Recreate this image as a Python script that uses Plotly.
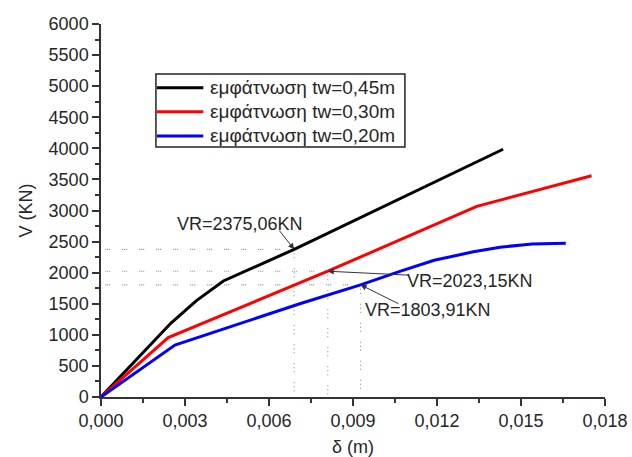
import plotly.graph_objects as go

# Shear force V (KN) against displacement delta (m) for three wall thicknesses
delta_045 = [0.0, 0.00250, 0.00341, 0.00437, 0.0069, 0.01436]
v_045 = [0, 1190, 1550, 1867, 2375.06, 3985]

delta_030 = [0.0, 0.00240, 0.0081, 0.01342, 0.01752]
v_030 = [0, 955, 2023.15, 3066, 3560]

delta_020 = [0.0, 0.00264, 0.0071, 0.00927, 0.0107, 0.0119, 0.0133, 0.01425, 0.0154, 0.0166]
v_020 = [0, 835, 1500, 1803.91, 2025, 2200, 2335, 2410, 2462, 2475]

series_names = ["εμφάτνωση tw=0,45m", "εμφάτνωση tw=0,30m", "εμφάτνωση tw=0,20m"]
series_colors = ["#000000", "#ff0000", "#0000ff"]

# Resistance points marked on the curves
vr_delta = [0.0069, 0.0081, 0.00927]
vr_values = [2375.06, 2023.15, 1803.91]
vr_labels = ["VR=2375,06KN", "VR=2023,15KN", "VR=1803,91KN"]

x_ticks = [0.0, 0.003, 0.006, 0.009, 0.012, 0.015, 0.018]
x_tick_labels = ["0,000", "0,003", "0,006", "0,009", "0,012", "0,015", "0,018"]
y_ticks = list(range(0, 6001, 500))
y_tick_labels = [str(v) for v in y_ticks]

FONT = "Arial, 'Liberation Sans', sans-serif"
TEXT = "#262626"
GUIDE = "#8a8a8a"

fig = go.Figure()

# dotted guides from the axes to each resistance point
for d, v in zip(vr_delta, vr_values):
    fig.add_trace(go.Scatter(
        x=[0.00015, d], y=[v, v], mode="lines", showlegend=False, hoverinfo="skip",
        line=dict(color=GUIDE, width=1.1, dash="1px,1px,1px,1px,1px,12px")))
    fig.add_trace(go.Scatter(
        x=[d, d], y=[v, 0], mode="lines", showlegend=False, hoverinfo="skip",
        line=dict(color=GUIDE, width=1.1, dash="1px,3px,1px,3px,1px,10px")))

for xs, ys, name, color in zip([delta_045, delta_030, delta_020],
                               [v_045, v_030, v_020],
                               series_names, series_colors):
    fig.add_trace(go.Scatter(x=xs, y=ys, mode="lines", name=name, showlegend=False,
                             line=dict(color=color, width=3)))

# label positions and arrow tails for the resistance annotations
label_pos = [(0.00497, 2789), (0.01318, 1858), (0.01168, 1392)]
arrow_tail = [(0.00633, 2700), (0.01104, 1959), (0.01068, 1488)]

for (lx, ly), (tx, ty), d, v, txt in zip(label_pos, arrow_tail, vr_delta, vr_values, vr_labels):
    fig.add_annotation(x=lx, y=ly, text=txt, showarrow=False,
                       font=dict(family=FONT, size=18, color=TEXT))
    fig.add_annotation(x=d, y=v, ax=tx, ay=ty, axref="x", ayref="y", text="",
                       showarrow=True, arrowhead=2, arrowsize=1.2, arrowwidth=1,
                       arrowcolor="#333333", standoff=0)

# boxed key in the upper left of the plot area
key_x0, key_x1 = 0.109, 0.603
key_y0, key_y1 = 0.670, 0.866
key_line = (0.111, 0.203)
key_text_x = 0.212
key_rows = [0.829, 0.765, 0.700]
fig.add_shape(type="rect", xref="paper", yref="paper",
              x0=key_x0, x1=key_x1, y0=key_y0, y1=key_y1,
              line=dict(color="#222222", width=1.5), fillcolor="white", layer="above")
for name, color, ry in zip(series_names, series_colors, key_rows):
    fig.add_shape(type="line", xref="paper", yref="paper",
                  x0=key_line[0], x1=key_line[1], y0=ry, y1=ry,
                  line=dict(color=color, width=3), layer="above")
    fig.add_annotation(xref="paper", yref="paper", x=key_text_x, y=ry,
                       xanchor="left", yanchor="middle", text=name, showarrow=False,
                       font=dict(family=FONT, size=19, color=TEXT))

axis_common = dict(
    showline=True, linecolor="#333333", linewidth=1.5, mirror=False,
    ticks="outside", ticklen=7, tickwidth=1.5, tickcolor="#333333",
    showgrid=False, zeroline=False, automargin=False,
    tickfont=dict(family=FONT, size=18, color=TEXT),
)

fig.update_xaxes(
    range=[0, 0.018], tickvals=x_ticks, ticktext=x_tick_labels,
    minor=dict(ticks="outside", dtick=0.0015, ticklen=4, tickwidth=1.5, tickcolor="#333333"),
    title=dict(text="δ (m)", font=dict(family=FONT, size=18, color=TEXT), standoff=13),
    **axis_common)
fig.update_yaxes(
    range=[0, 6000], tickvals=y_ticks, ticktext=y_tick_labels,
    minor=dict(ticks="outside", dtick=250, ticklen=4, tickwidth=1.5, tickcolor="#333333"),
    title=dict(text="V (KN)", font=dict(family=FONT, size=18, color=TEXT), standoff=11),
    **axis_common)

fig.update_layout(
    width=632, height=457,
    margin=dict(l=101, r=27, t=24, b=60),
    paper_bgcolor="white", plot_bgcolor="white",
    font=dict(family=FONT, color=TEXT),
    showlegend=False,
)

fig.write_html("out.html")
